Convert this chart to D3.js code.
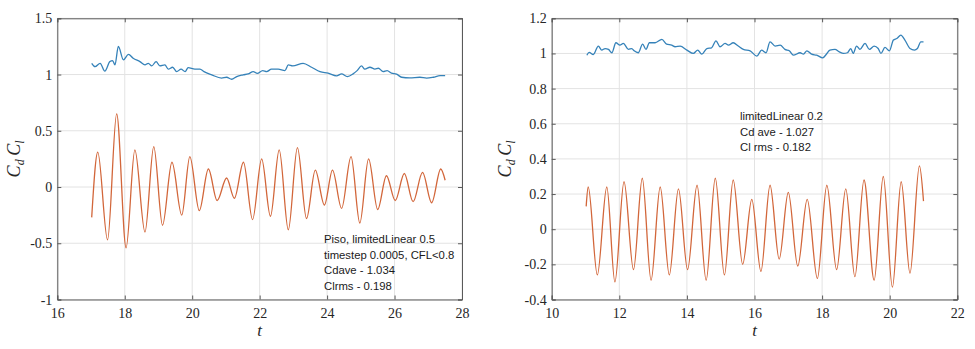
<!DOCTYPE html>
<html><head><meta charset="utf-8">
<script src="https://cdn.jsdelivr.net/npm/d3@7"></script>
</head><body style="margin:0">
<svg id="c" width="975" height="349"></svg>
<script>
// ---- Left panel data ----
const leftXTicks = [16,18,20,22,24,26,28];
const leftYTicks = [-1,-0.5,0,0.5,1,1.5];
const leftClT = [17.02,17.20,17.49,17.76,18.04,18.30,18.60,18.86,19.12,19.40,19.69,19.93,20.21,20.48,20.74,21.02,21.25,21.52,21.79,22.06,22.32,22.58,22.85,23.12,23.39,23.65,23.92,24.16,24.43,24.71,24.97,25.23,25.50,25.76,26.02,26.29,26.55,26.83,27.10,27.37,27.50];
const leftCl = [-0.27,0.31,-0.47,0.65,-0.54,0.33,-0.40,0.36,-0.34,0.22,-0.25,0.27,-0.21,0.16,-0.12,0.08,-0.10,0.22,-0.29,0.25,-0.26,0.33,-0.38,0.35,-0.28,0.15,-0.16,0.15,-0.19,0.27,-0.32,0.25,-0.20,0.10,-0.12,0.12,-0.13,0.13,-0.14,0.16,0.06];
const leftCdT = [17.02,17.12,17.27,17.41,17.56,17.64,17.71,17.81,17.96,18.11,18.25,18.45,18.60,18.70,18.80,18.93,19.04,19.19,19.29,19.42,19.54,19.67,19.79,19.88,20.08,20.23,20.35,20.58,20.87,21.02,21.17,21.32,21.51,21.66,21.81,21.93,22.09,22.21,22.35,22.55,22.75,22.85,22.98,23.29,23.54,23.79,24.03,24.28,24.43,24.60,24.77,24.89,25.02,25.12,25.27,25.42,25.52,25.66,25.78,25.91,26.06,26.21,26.45,26.75,26.95,27.15,27.35,27.50];
const leftCd = [1.10,1.07,1.10,1.03,1.115,1.124,1.086,1.25,1.13,1.18,1.145,1.115,1.086,1.10,1.077,1.115,1.077,1.086,1.048,1.065,1.026,1.048,1.026,1.062,1.048,1.048,1.026,0.997,0.968,0.976,0.958,0.982,0.997,1.006,1.026,1.01,1.035,1.026,1.048,1.048,1.035,1.086,1.077,1.10,1.065,1.026,1.012,0.988,1.006,0.982,1.006,1.035,1.077,1.048,1.065,1.048,1.056,1.026,1.035,1.012,1.003,0.976,0.970,0.976,0.968,0.976,0.99,0.99];
const leftNotes = ["Piso, limitedLinear 0.5","timestep 0.0005, CFL<0.8","Cdave - 1.034","Clrms - 0.198"];

// ---- Right panel data ----
const rightXTicks = [10,12,14,16,18,20,22];
const rightYTicks = [-0.4,-0.2,0,0.2,0.4,0.6,0.8,1,1.2];
const rightClT = [11.02,11.08,11.35,11.63,11.87,12.14,12.42,12.68,12.94,13.21,13.48,13.75,14.02,14.30,14.57,14.84,15.11,15.37,15.65,15.92,16.19,16.46,16.73,17.00,17.28,17.56,17.86,18.14,18.43,18.70,18.97,19.24,19.54,19.81,20.08,20.34,20.60,20.88,21.00];
const rightCl = [0.13,0.24,-0.26,0.24,-0.30,0.27,-0.23,0.29,-0.29,0.24,-0.26,0.23,-0.23,0.25,-0.29,0.29,-0.26,0.28,-0.20,0.17,-0.24,0.25,-0.17,0.21,-0.21,0.17,-0.28,0.25,-0.23,0.23,-0.27,0.28,-0.29,0.30,-0.33,0.27,-0.25,0.36,0.16];
const rightCdT = [11.04,11.11,11.23,11.38,11.48,11.58,11.68,11.78,11.90,12.02,12.12,12.27,12.37,12.44,12.56,12.69,12.79,12.89,13.06,13.26,13.40,13.55,13.65,13.80,14.00,14.19,14.32,14.44,14.59,14.73,14.86,14.98,15.13,15.23,15.37,15.52,15.67,15.87,16.07,16.21,16.34,16.46,16.61,16.76,16.90,17.03,17.15,17.35,17.45,17.55,17.69,17.84,18.02,18.12,18.23,18.38,18.51,18.63,18.75,18.85,18.92,19.02,19.12,19.27,19.40,19.54,19.66,19.74,19.86,19.99,20.11,20.21,20.33,20.45,20.60,20.73,20.82,20.92,21.00];
const rightCd = [0.99,1.006,0.994,1.042,1.019,1.028,1.023,1.004,1.061,1.047,1.057,1.023,1.028,1.015,1.004,1.053,1.023,1.061,1.061,1.080,1.053,1.047,1.038,1.042,1.019,1.0,1.019,0.996,1.028,1.032,1.072,1.038,1.057,1.047,1.061,1.042,1.023,1.015,0.985,1.019,1.004,1.066,1.042,1.047,1.023,1.015,0.99,1.004,0.996,1.015,0.996,0.99,0.975,0.994,1.019,1.023,1.009,1.0,1.004,1.028,1.0,1.042,1.023,1.057,1.023,1.042,1.028,1.0,1.034,1.015,1.076,1.085,1.104,1.076,1.028,1.019,1.028,1.066,1.066];
const rightNotes = ["limitedLinear 0.2","Cd ave - 1.027","Cl rms - 0.182"];

// prime the fonts the way a canvas measurement does
const cv = document.createElement("canvas").getContext("2d");
['14px "Liberation Serif"','italic 17px "Liberation Serif"','11px "Liberation Sans"'].forEach(f => {
  cv.font = f; cv.measureText("Cd Cl t 0.5 -1 limitedLinear");
});

const SERIF = '"Liberation Serif"';
const SANS = '"Liberation Sans"';
const svg = d3.select("#c");
const zip = (a,b) => a.map((t,i)=>[t,b[i]]);

const panels = [
  {left:57.3, right:462, top:18.3, bottom:299.5, xd:[16,28], yd:[-1,1.5], xt:leftXTicks, yt:leftYTicks,
   cl:zip(leftClT,leftCl), cd:zip(leftCdT,leftCd), notes:leftNotes, nx:324, ny:239, ylx:19.5},
  {left:551.7, right:957.3, top:18.3, bottom:299.5, xd:[10,22], yd:[-0.4,1.2], xt:rightXTicks, yt:rightYTicks,
   cl:zip(rightClT,rightCl), cd:zip(rightCdT,rightCd), notes:rightNotes, nx:740, ny:116, ylx:511}
];

const fmt = v => String(+v.toFixed(2));

panels.forEach(p => {
  const x = d3.scaleLinear().domain(p.xd).range([p.left, p.right]);
  const y = d3.scaleLinear().domain(p.yd).range([p.bottom, p.top]);
  // grid
  svg.append("g").selectAll("line").data(p.xt).join("line")
    .attr("x1", d=>x(d)).attr("x2", d=>x(d)).attr("y1", p.top).attr("y2", p.bottom)
    .attr("stroke", "#e3e3e3").attr("stroke-width", 1);
  svg.append("g").selectAll("line").data(p.yt).join("line")
    .attr("y1", d=>y(d)).attr("y2", d=>y(d)).attr("x1", p.left).attr("x2", p.right)
    .attr("stroke", "#e3e3e3").attr("stroke-width", 1);

  const line = d3.line().x(d=>x(d[0])).y(d=>y(d[1])).curve(d3.curveMonotoneX);
  svg.append("path").datum(p.cd).attr("d", line).attr("fill","none")
    .attr("stroke","#3582b9").attr("stroke-width",1.3);
  svg.append("path").datum(p.cl).attr("d", line).attr("fill","none")
    .attr("stroke","#d2663a").attr("stroke-width",1.3);

  // axes (box with inner ticks on all sides)
  const axCol = "#5a5a5a";
  const bAx = d3.axisBottom(x).tickValues(p.xt).tickSize(-4).tickFormat(d=>fmt(d));
  const tAx = d3.axisTop(x).tickValues(p.xt).tickSize(-4).tickFormat("");
  const lAx = d3.axisLeft(y).tickValues(p.yt).tickSize(-4).tickFormat(d=>fmt(d));
  const rAx = d3.axisRight(y).tickValues(p.yt).tickSize(-4).tickFormat("");
  const style = sel => {
    sel.attr("font-family", null).attr("font-size", null);
    sel.select(".domain").attr("stroke", axCol).attr("stroke-width",1);
    sel.selectAll(".tick line").attr("stroke", axCol);
    sel.selectAll(".tick text").attr("fill","#262626")
      .style("font-family", SERIF).style("font-size","14px");
  };
  svg.append("g").attr("transform",`translate(0,${p.bottom})`).call(bAx).call(style)
    .selectAll(".tick text").attr("dy", null).attr("y", 14).attr("dominant-baseline","central");
  svg.append("g").attr("transform",`translate(0,${p.top})`).call(tAx).call(style);
  svg.append("g").attr("transform",`translate(${p.left},0)`).call(lAx).call(style)
    .selectAll(".tick text").attr("x", -5).attr("dy", null).attr("dominant-baseline","central");
  svg.append("g").attr("transform",`translate(${p.right},0)`).call(rAx).call(style);

  // x label
  svg.append("text").attr("x", (p.left+p.right)/2).attr("y", 336)
    .attr("text-anchor","middle").style("font-family", SERIF)
    .style("font-style","italic").style("font-size","17px").attr("fill","#262626").text("t");
  // y label
  const yl = svg.append("text")
    .attr("transform",`translate(${p.ylx},${(p.top+p.bottom)/2}) rotate(-90)`)
    .attr("text-anchor","middle").style("font-family", SERIF)
    .style("font-style","italic").style("font-size","18px").attr("fill","#262626");
  yl.append("tspan").text("C");
  yl.append("tspan").style("font-size","12px").attr("dy", 4).text("d");
  yl.append("tspan").attr("dy", -4).text("\u2009C");
  yl.append("tspan").style("font-size","12px").attr("dy", 4).text("l");

  // notes
  svg.append("g").selectAll("text").data(p.notes).join("text")
    .attr("x", p.nx).attr("y", (d,i)=>p.ny + i*15.6).attr("dominant-baseline","central")
    .style("font-family", SANS).style("font-size","11.3px")
    .attr("fill","#1a1a1a").text(d=>d);
});
</script>
</body></html>
